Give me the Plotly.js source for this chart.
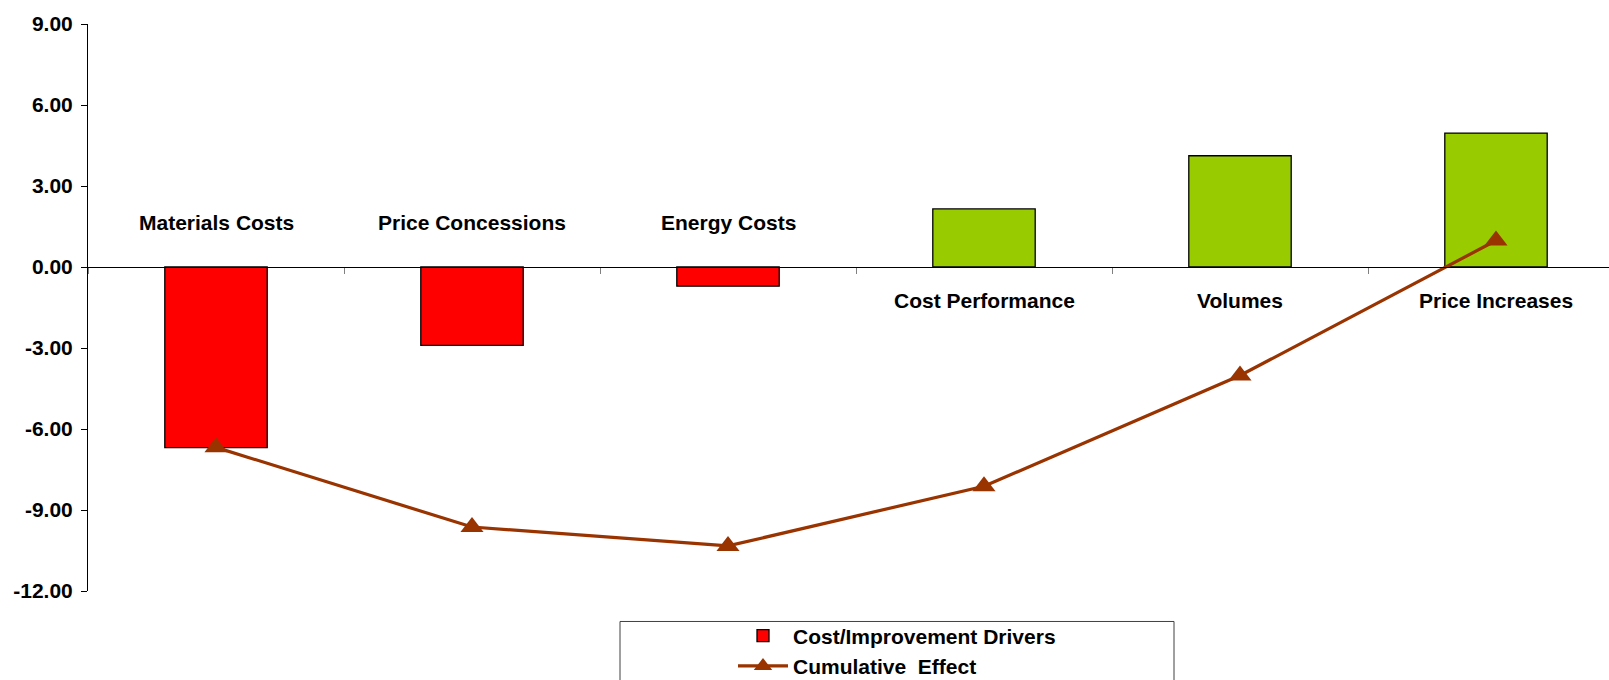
<!DOCTYPE html>
<html>
<head>
<meta charset="utf-8">
<script src="https://cdn.plot.ly/plotly-3.0.1.min.js"></script>
<style>html,body{margin:0;padding:0;background:#fff;}#chart{width:1609px;height:680px;}</style>
</head>
<body>
<div id="chart"></div>
<script>
const categories = ["Materials Costs", "Price Concessions", "Energy Costs", "Cost Performance", "Volumes", "Price Increases"];
const driverValues = [-6.69, -2.90, -0.71, 2.15, 4.12, 4.96];
const cumulativeValues = [-6.68, -9.63, -10.33, -8.12, -4.02, 0.98];
const yTickValues = [-12, -9, -6, -3, 0, 3, 6, 9];
const seriesNames = ["Cost/Improvement Drivers", "Cumulative\u00a0 Effect"];

const FONT = "'Liberation Sans', Arial, sans-serif";
const W = 1609, H = 680;
const mL = 88, mR = 0, mT = 24, mB = 88.5;
const plotW = W - mL - mR, plotH = H - mT - mB;
const px2x = p => (p - mL) / plotW;
const px2y = p => (H - mB - p) / plotH;

const barColors = driverValues.map(v => v < 0 ? "#FF0000" : "#99CC00");

const traces = [
  {
    type: "bar",
    name: seriesNames[0],
    x: categories,
    y: driverValues,
    width: 0.4,
    marker: { color: barColors, line: { color: "#000000", width: 1.3 } },
    hoverinfo: "x+y"
  },
  {
    type: "scatter",
    mode: "lines+markers",
    name: seriesNames[1],
    x: categories,
    y: cumulativeValues,
    line: { color: "#993300", width: 3.2 },
    marker: { symbol: "triangle-up", size: 20, color: "#993300" },
    cliponaxis: false
  }
];

const annotations = categories.map((c, i) => ({
  x: c, y: 0, xref: "x", yref: "y",
  text: "<b>" + c + "</b>",
  showarrow: false,
  xanchor: "center", yanchor: "middle",
  yshift: driverValues[i] < 0 ? 45 : -33,
  font: { family: FONT, size: 21, color: "#000" }
}));

const layout = {
  width: W, height: H,
  margin: { l: mL, r: mR, t: mT, b: mB, pad: 0, autoexpand: false },
  paper_bgcolor: "#fff", plot_bgcolor: "#fff",
  showlegend: true,
  font: { family: FONT, color: "#000" },
  xaxis: {
    type: "category",
    range: [-0.5, -0.5 + plotW / 256],
    anchor: "free",
    position: 12 / 21,
    showline: true, linecolor: "#000", linewidth: 1,
    ticks: "outside", tickson: "boundaries", ticklen: 6, tickcolor: "#808080", tickwidth: 1,
    showticklabels: false,
    showgrid: false, zeroline: false, fixedrange: true
  },
  yaxis: {
    range: [-12, 9],
    tickvals: yTickValues,
    ticktext: yTickValues.map(v => "<b>" + v.toFixed(2) + "</b>"),
    showline: true, linecolor: "#000", linewidth: 1,
    ticks: "outside", ticklen: 6, tickcolor: "#000", tickwidth: 1,
    ticklabelstandoff: 4,
    tickfont: { family: FONT, size: 21, color: "#000" },
    showgrid: false, zeroline: false, fixedrange: true
  },
  legend: {
    x: px2x(733), y: px2y(616), xanchor: "left", yanchor: "top",
    bgcolor: "rgba(0,0,0,0)", borderwidth: 0,
    itemwidth: 50,
    font: { family: FONT, size: 21, color: "#000", weight: "bold" },
    traceorder: "normal"
  },
  shapes: [
    {
      type: "rect", xref: "paper", yref: "paper",
      x0: px2x(620), x1: px2x(1174), y0: px2y(622), y1: px2y(700),
      line: { color: "#404040", width: 1 }, fillcolor: "rgba(0,0,0,0)"
    }
  ],
  annotations: annotations
};

Plotly.newPlot("chart", traces, layout, { displayModeBar: false, staticPlot: true });
</script>
</body>
</html>
